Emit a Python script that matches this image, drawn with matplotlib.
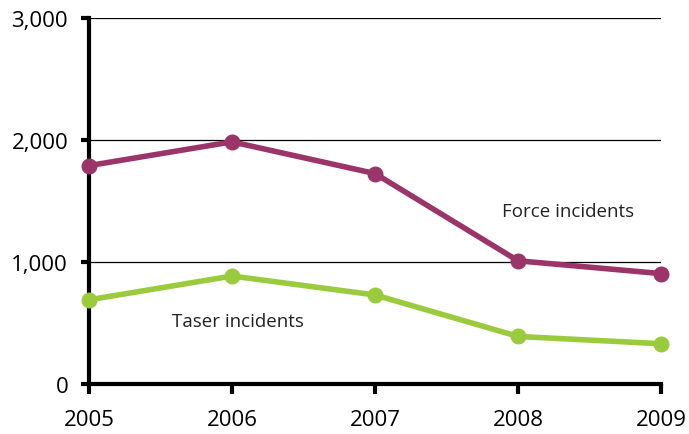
import matplotlib
matplotlib.use("Agg")
import matplotlib.pyplot as plt

years = [2005, 2006, 2007, 2008, 2009]
force = [1790, 1985, 1725, 1010, 905]
taser = [690, 885, 730, 390, 330]
yticks = [0, 1000, 2000, 3000]
ytick_labels = ["0", "1,000", "2,000", "3,000"]

plt.rcParams['font.family'] = ['Open Sans', 'DejaVu Sans']

fig = plt.figure(figsize=(6.89, 4.35), dpi=100)
ax = fig.add_axes([89/689, 1-385/435, (661-89)/689, (385-19)/435])

force_c = "#9b3468"
taser_c = "#9acb3c"

for y in [1000, 2000, 3000]:
    ax.axhline(y, color="black", lw=0.9, zorder=1)

ax.plot(years, force, color=force_c, lw=4, marker="o", ms=10.5, clip_on=False, zorder=3)
ax.plot(years, taser, color=taser_c, lw=4, marker="o", ms=10.5, clip_on=False, zorder=3)

ax.set_xlim(2005, 2009)
ax.set_ylim(0, 3000)
ax.set_xticks(years)
ax.set_xticklabels([str(y) for y in years], fontsize=16)
ax.set_yticks(yticks)
ax.set_yticklabels(ytick_labels, fontsize=16)

for s in ["top", "right"]:
    ax.spines[s].set_visible(False)
for s in ["left", "bottom"]:
    ax.spines[s].set_linewidth(3)
    ax.spines[s].set_color("black")
ax.tick_params(axis="x", direction="out", length=7, width=3, pad=11)
ax.tick_params(axis="y", direction="out", length=6, width=3, pad=9)

ax.text(2008.35, 1420, "Force incidents", fontsize=13.5, color="#222222", ha="center", va="center")
ax.text(2006.04, 515, "Taser incidents", fontsize=13.5, color="#222222", ha="center", va="center")

fig.savefig("out.png", dpi=100)
